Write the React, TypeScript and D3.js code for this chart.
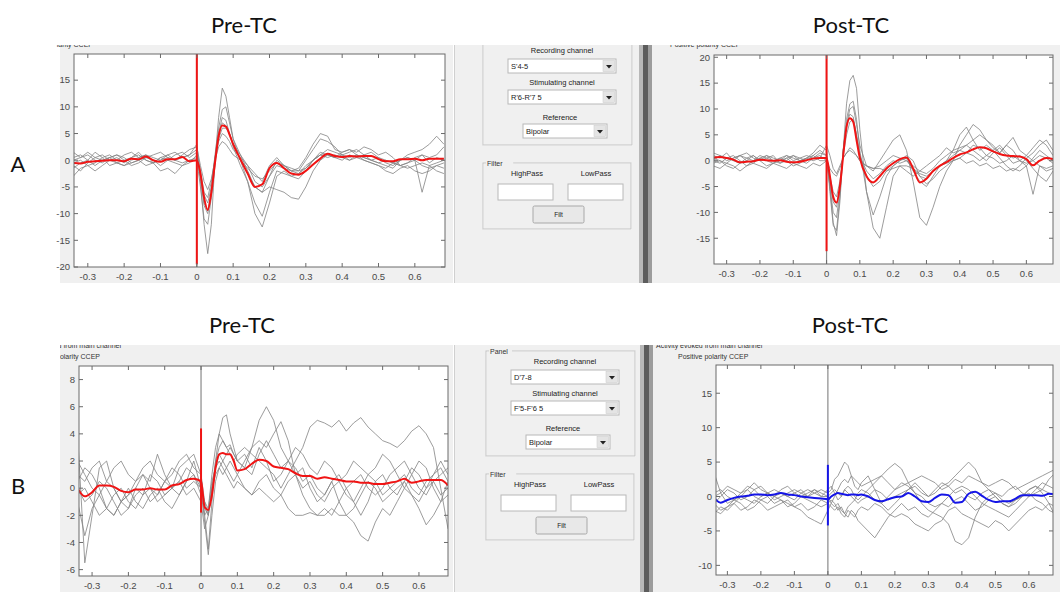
import * as d3 from 'd3';

// sample times (s) shared by every trace
const T = [
  -0.34, -0.32, -0.3, -0.28, -0.26, -0.24, -0.22, -0.2, -0.18, -0.16, -0.14, -0.12, -0.1, -0.08, -0.06, -0.04, -0.02,
  0, 0.01, 0.02, 0.03, 0.04, 0.05, 0.06, 0.07, 0.08, 0.09, 0.1,
  0.12, 0.14, 0.16, 0.18, 0.2, 0.22, 0.24, 0.26, 0.28, 0.3, 0.32, 0.34, 0.36, 0.38, 0.4, 0.42, 0.44, 0.46, 0.48, 0.5,
  0.52, 0.54, 0.56, 0.58, 0.6, 0.62, 0.64, 0.66, 0.68,
];
const X_TICKS = [-0.3, -0.2, -0.1, 0, 0.1, 0.2, 0.3, 0.4, 0.5, 0.6];

// A, Pre-TC
const aPreMean = [
  -0.5, -0.6, -0.3, -0.2, -0.1, 0, 0, -0.2, 0.3, 0.2, 0.7, 0, -0.3, 0.2, 0.2, 0.6, -0.2,
  0, -2.5, -7, -9.3, -6, -0.5, 4.5, 6.5, 6.3, 4.8, 3,
  0.2, -2.5, -5, -4.5, -1.5, -0.5, -1.5, -2.5, -2.7, -2, -0.8, 0.3, 1.2, 0.8, 0.6, 0.8, 0.7, 0.8, 0.8, 0.2, -0.2, -0.2, 0.2, 0.2, 0.3, 0, 0.3, 0.3, 0.3,
];
const aPreTrials = [
  [-1, -2, -0.5, 0.5, 1, 0, 0.5, -0.5, 0.5, 1, 0, -0.5, 0.5, 1, 0, 0.5, 1,
    2, -4, -12, -17.5, -12, 0, 8, 13.5, 12, 8, 4,
    0, -4, -10, -12.5, -8, -3, -2, -3, -2.5, -1, 0, 1, 2, 1.5, 1, 0.5, 1, 0, -0.5, -1, -1.5, -0.5, 0, 0.5, 0, -1, -1.5, -1, -0.5],
  [-3, -1.5, -1, -2, -1, 0, -0.5, -1, -0.5, 0, -1, -0.5, -2, -1.5, -2.5, -1, -0.5,
    1, -3, -6.5, -8, -5, 1, 6, 9.5, 10, 7, 4,
    1, -2, -5, -6, -5, -5.5, -6, -7, -7.3, -5, -2, 0, 1, 0.5, 0, 1, 0.5, 0, -0.5, -1, -2, -2.5, -1.5, -1, -2, -2.5, -2, -1, -1.5],
  [0.5, 1, 0, 1.5, 0.5, 1, 0, 1, 1.5, 0.5, 1, 0.5, 0, 1, 1.5, 0.5, 1,
    3, -3, -8, -9.5, -6, 0, 4, 6, 6, 5, 3,
    1, -1, -4, -5, -3, -1, -1.5, -2, -2, 0, 2, 4, 3.5, 2.5, 1, 1.5, 2, 1, 0, 0.5, -0.5, -1, 0, 1, 1.5, 2, 3, 4.5, 3],
  [1.5, 0.5, 1, 0, -0.5, 0.5, 1, 0.5, -0.5, 0, 0.5, 1, 1.5, 0.5, 0, 1, 2,
    2.5, -1, -4, -5.5, -3.5, 0, 2.5, 3.5, 3, 2, 1,
    0, -1.5, -3, -3.5, -2, -0.5, -1, -1.5, -2, -1.5, 0, 1, 1, 0.5, 1.5, 2, 1, 0.5, 0, -0.5, 0, -0.5, -1, -0.5, 0, -6, -1, -0.5, 0],
  [-0.5, 0, -1, -0.5, 0.5, -1, -0.5, 0, -1, -0.5, 0.5, 0, -1, 0, -0.5, -1, 0,
    0, -5, -11, -12, -7, -1, 5, 8, 7.5, 5, 2.5,
    -1, -4, -8, -10.5, -6, -2, -2.5, -3, -3.5, -2, 0, 1.5, 1, 0.5, 1, 0, 0.5, 1, 1.5, 0.5, 0, -0.5, -1, -1.5, -1, -0.5, -1, -2, -2.5],
  [0, 0.5, 1.5, 0.5, 0, 0.5, 1, 0, 0.5, 1.5, 0, -0.5, 0.5, 0, 1, 1.5, 0.5,
    1.5, -2, -6, -7, -4, 0.5, 3.5, 5, 4.5, 3.5, 2,
    0.5, -1, -2.5, -4, -1, 0.5, -1, -2, -1.5, 0.5, 3, 5, 4.5, 2, 1.5, 2, 1.5, 2.5, 2, 1, 1.5, 0.5, -1, -0.5, 0.5, 1, 0.5, 1, 2.5],
  [-1.5, -0.5, 0, -1, 0, 0.5, -0.5, -1, 0, 0.5, 1, -0.5, 0, 0.5, 0, -0.5, 0,
    0.5, -3, -8.5, -10, -6.5, 0, 5, 7, 6.5, 5, 3,
    0, -2.5, -5, -6, -3, 0, -1, -2, -2.5, -1.5, 0, 1, 0.5, 1, 0.5, 0, 1, 0.5, 0, -0.5, -1, -1.5, 0, 0.5, 0, 1, -0.5, 0.5, 0],
];

// A, Post-TC
const aPostMean = [
  0.6, 0.7, 0.5, 0.2, -0.3, -0.2, -0.1, 0.2, 0.1, 0, 0.1, -0.2, -0.3, -0.2, 0.1, 0.4, 0.5,
  0.5, -3, -7, -8.1, -5, 1, 6.5, 8.2, 7.5, 4, 0.5,
  -3, -4.2, -3, -1.5, -0.5, 0.3, 0.6, -1.5, -4.2, -3.5, -2, -1, -0.3, 0.5, 1.2, 1.6, 2.2, 2.6, 2.4, 1.8,
  1.3, 1, 0.9, 0.8, 0.3, -0.9, 0, 0.5, 0.3,
];
const aPostTrials = [
  [1, 0.5, 1.5, 0, -0.5, 0.5, 1, 0, 0.5, 1, -0.5, 0, 1, 0.5, 0, 1, 2,
    1, -5, -12, -14.5, -8, 2, 11, 15.5, 16.5, 14, 6,
    -6, -13, -15, -9, -3, -1, -2, -3, -2, -1, 0, 1, 2.5, 1.5, 2, 3, 2, 1, 0, 1.5, 2.5, 1, -0.5, 0, 1, 0, -1, -2, -1.5],
  [-0.5, 0, -1, -1.5, -0.5, 0, 1, 0, -1, -0.5, 0.5, 0, -1, -0.5, 0.5, 1.5, 3,
    2, -6, -12.5, -13.5, -7, 2, 8, 11, 11.5, 8, 2,
    -6, -10.5, -7, -3, -1, 0, 0.5, -2, -4, -5, -3, -1, 0, 2, 5, 6.5, 4, 2, 3, 2, 0.5, -1, -2, -1, 0.5, 1.5, 3, 4, 2],
  [0, 1, 0.5, 0, 1, 1.5, 0.5, 0, 1, 0.5, 0, 1, 0.5, 0, -0.5, 0.5, 1,
    0, -4, -8, -9, -5, 2, 7, 10, 10.5, 7, 3,
    -1, -2, 0, 2, 4, 5, 2, -4, -11, -12.5, -9, -5, -2, 0, 3, 5, 7, 6, 4, 3, 1.5, 3, 2, 0, -1, 0.5, 2, 1, 0],
  [1.5, 1, 0, 0.5, 1, 0, -0.5, 0.5, 1, 0, 0.5, 1, 0, 0.5, 1, 0.5, 1.5,
    1, -3, -6, -7, -4, 1, 5, 7.5, 8, 5, 1,
    -2, -3.5, -2.5, -1, 0, -0.5, 0, -1.5, -3, -3.5, -2, -1, 0, 1, 2, 1.5, 3, 2.5, 1, 2, 3, 1.5, 0.5, 1, 0, -1.5, -3, -4, -2],
  [-1, -1.5, -0.5, -1, -2, -1, -0.5, -1, -1.5, -0.5, -1, -1.5, -0.5, -1, -1.5, -0.5, -1,
    0, -1.5, -2.5, -3, -1.5, 0.5, 1.5, 2.5, 2, 1, 0,
    -1, -1.5, -1.5, -2, -1.5, -1, -1, -1.5, -2.5, -3, -2, -1, -0.5, 0, 0.5, -0.5, 0, -1, -0.5, -1.5, -1, -2, -1.5, -2, -1, -6.5, -1, -1.5, -1],
  [0.5, 0, -0.5, 0.5, 1, 0.5, 0, 1, 0.5, 0, -0.5, 0.5, 1, 0, 0.5, 0, 0.5,
    3, 1, -1.5, -2.5, -1, 0.5, 1.5, 2, 1.5, 1, 0,
    -1, -1.5, -1, 0, 1, 0.5, 0, -1, -2, -2.5, -1.5, 0, 1, 2, 2.5, 3, 4, 5, 4, 2.5, 1.5, 3, 4.5, 2, 1, 2.5, 4, 3, 1],
  [0, -0.5, 0.5, 1, 0, -1, 0, 0.5, 0, -0.5, 0, 0.5, -0.5, 0, 0.5, 1, 0,
    0, -5, -10, -11, -6, 2, 7, 9, 8.5, 5, 1,
    -3, -5, -4, -2, -1, 0, 1, 0, -3, -4.5, -3.5, -2, -1, 0, 0.5, 1.5, 1, 0, 1, 0.5, -0.5, 0, 1, 0, -0.5, 0, 1, 0.5, -0.5],
];

// B, Pre-TC
const bPreMean = [
  0, -0.6, -0.3, 0.2, 0.2, 0.1, -0.2, -0.3, -0.1, -0.1, 0, -0.1, -0.1, 0.2, 0.3, 0.6, 0.7,
  0.5, -1.4, -1.6, -0.5, 1.5, 2.5, 2.6, 2.5, 2.5, 2, 1.3,
  1.4, 1.8, 2.1, 2, 1.6, 1.5, 1.4, 1.1, 0.9, 0.9, 0.7, 0.8, 0.7, 0.6, 0.5, 0.5, 0.4, 0.4, 0.3, 0.3,
  0.4, 0.5, 0.7, 0.4, 0.5, 0.6, 0.6, 0.6, 0.2,
];
const bPreTrials = [
  [4, -5.5, -2, 1.5, 2, 0, -1, -1.5, 0, 1, 0.5, 2.5, 1, 0, 1.5, 2, 2.5,
    1, -2, -4.5, -1, 2, 4, 5.2, 5.4, 4, 3, 2,
    2.5, 1.5, 3, 2, 0.5, 1, 2, 1.5, 0.5, 1, 0, -0.5, 0.5, 1, 0, -1, -2, -1, 0.5, 1, 0, -0.5, 0.5, 1.5, 1, 0, 1, 2, 1],
  [-1, -3.5, -1.5, -0.5, -1.5, -2, -1, -0.5, 0, -0.5, 1, 0.5, -0.5, 0, 0.5, 1.5, 1,
    0, -1, -2, 0, 2, 3, 3.5, 3, 2.5, 2, 2.5,
    3, 2.5, 2, 1.5, 1, 0, 1, 2, 3, 4.5, 5, 4.8, 4.5, 5, 4.2, 4.8, 5.2, 4.5, 4, 3.5, 3.3, 3, 3.5, 4.2, 4.6, 4, 3, 0, -3],
  [1, 0.5, 1.5, 2, 0.5, 0, -1, -0.5, 0.5, 1, 0, -0.5, 0.5, 1.5, 1, 0, 0.5,
    0, -1.5, -2, 0, 1.5, 2.5, 2, 2.5, 3, 2.5, 2,
    1.5, 3, 5, 6, 5, 3, 2, 1, 0, 0.5, -0.5, -1, 0, 0.5, -0.5, -1, 0, 1, 0.5, -0.5, 0, 0.5, 1, 0, -0.5, 0.5, 1, 1.5, 0.5],
  [-0.5, 0, -1, -2, -1.5, -0.5, 0, -1, -1.5, -0.5, 0, -1, -0.5, 0, 0.5, -0.5, 0,
    -1, -3, -2, 0, 1, 1.5, 1, 1.5, 2, 1.5, 1,
    2, 3, 3.5, 3, 4, 4.9, 3.5, 1, -0.5, -1.5, -2, -2, -1.5, -2, -2, -1.5, -0.5, 0.5, 0, -1, -0.5, 0, 0.5, -0.5, -1, 0, 0.5, -0.5, 0],
  [0.5, 1.5, 1, 0, -1.5, -2, -1, 0, -1, -1.5, -0.5, 0, -1, -1.5, -0.5, 0.5, 2,
    0, -2.5, -4.9, -2, 0.5, 1.5, 2, 1.5, 1, 0.5, 1,
    0, -0.5, 0.5, 1, 0, -0.5, 0.5, 1, 1.5, 0, -1, -0.5, 0.5, -1, -2, -2.5, -3.5, -3.9, -2.5, -1.5, -2, -1, 0, -0.5, -1.5, -2.7, -2, -1, 0.5],
  [2, 1, 0, -0.5, 0.5, 1.5, 2, 1, 0.5, 1.5, 2, 1, 0.5, 1, 2, 2.5, 1.5,
    1, -1, -1.5, 1, 3, 4, 3.5, 3, 3.2, 2.5, 2,
    1.5, 1, 2.5, 3.5, 2.5, 1.5, 2, 3, 2.5, 1.5, 1, 2, 1.5, 0.5, 1, 2, 1.5, 1, 1.5, 2.5, 2, 1, 0, 1, 2, 1.5, 0, -1, -0.5],
  [0, -1, -0.5, 0.5, 0, -1, -2, -1.5, -0.5, 0, -1, -0.5, 0.5, 0, -0.5, 0.5, 1,
    -0.5, -2, -1.5, 0.5, 1.5, 2, 1.5, 1, 0.5, 0, 0.5,
    0, -0.5, 0, -0.5, -1, -0.5, -1.5, -2, -2, -1.8, -2, -1.5, -2, -1, 0, 0.5, 1, 0, -0.5, 0, 1, 1.5, 2, 1, 0, -0.5, 0.5, 1, 1.5],
];

// B, Post-TC
const bPostMean = [
  -0.2, -0.9, -0.5, -0.2, 0, 0.1, 0.3, 0.3, 0.2, 0.3, 0.5, 0.3, 0.2, 0, -0.1, -0.2, -0.3,
  -0.4, 0, 0.3, 0.5, 0.4, 0.3, 0.2, 0.3, 0.3, 0.2, 0.3,
  0, -0.5, -0.7, -0.4, -0.1, 0, 0.5, 0, -0.7, -0.8, -0.2, 0.3, 0.2, -0.9, -0.8, 0.4, 0.7, 0.1, -0.5, -0.8,
  -0.7, -0.7, -0.3, 0.2, 0.2, 0.2, 0.1, 0.4, 0.3,
];
const bPostTrials = [
  [3.5, 0.5, -1, -0.5, 0.5, 1.5, 1, 0, 0.5, 1, 0.5, 0, 0.5, 1, 0, 0.5, 1,
    0.5, 1, 2.5, 3, 4, 5, 4.5, 3, 1.5, 1, 2,
    3, 1, -1, -2, -1, 0, 1, 2, 1, 0, 0.5, 1.5, 2, 3, 4, 5, 4, 2, 1, 0, -1, -1.5, -0.5, 0, 1, 1.5, 1, 2.5, 3.5],
  [-1, -2, -1.5, -0.5, -1, -2, -1.5, -0.5, 0, -1, -0.5, -1.5, -1, 0, -0.5, -1, -1.5,
    -1, -0.5, -1, -2, -1.5, -2.5, -3, -2, -2.5, -3.5, -4,
    -5, -6, -4.5, -3, -2, -1, -2, -1.5, -2.5, -3, -2, -1, -1.5, -0.5, 0, -1, -2, -1.5, -0.5, 0, -1, -1.5, -1, 0, 0.5, -0.5, -1, -2, -2.5],
  [0.5, 1, 0, -0.5, 0, 1, 2, 1, 0.5, 0, 1, 1.5, 0.5, 0, 0.5, 1, 0,
    0, 0.5, 1, 0.5, 0, 1, 1.5, 1, 0, -0.5, 0,
    1, 2, 3, 4, 4.8, 4, 2, 0.5, -1, -2, -2.5, -3, -4, -6.5, -7, -6, -3, -1, 0, 0.5, 0, 1, 1.5, 0.5, 0, 0.5, 1, 0.5, 0],
  [-2, -2.5, -1.5, -1, -2, -1.5, -0.5, -1, -2, -1.5, -1, -0.5, -1.5, -1, -2, -1.5, -0.5,
    -1, -1.5, -2, -1.5, -2.5, -3, -2, -2.5, -3, -2, -1.5,
    -2, -1, -1.5, -2.5, -3, -2.5, -3, -4, -4.5, -5, -4, -3.5, -2, -1.5, -2.5, -3, -3.5, -4, -4.5, -3.5, -4, -5, -4, -3, -2, -1.5, -2, -1, -1.5],
  [-1, 0, 1, 0.5, -0.5, 0, 1, 1.5, 0.5, 0, -0.5, -1, -1.5, -2, -3, -3.5, -4,
    -2, -1, 0, 1, 2, 2.5, 2, 3, 2.5, 2, 1.5,
    2, 2.5, 3, 2, 1, 1.5, 2, 2.5, 3, 2.5, 2, 1, 1.5, 2.5, 2, 3, 2.5, 2, 1.5, 2, 2.5, 2, 1, 1.5, 2, 2.5, 3, 3.5, 4],
  [-2.5, -1.5, -2, -1, 0, -0.5, -1, 0, 0.5, -0.5, 0, 0.5, 1, 0.5, 0, 1, 0.5,
    0, -1, -1.5, -1, -2, -2.5, -1.5, -1, -0.5, -1, -0.5,
    0, 1, 0.5, -0.5, 0, 0.5, 1, 1.5, 0.5, 0, 1, 2, 1.5, 0.5, 1, 0, -0.5, 0.5, 1, 0.5, -0.5, -1, -0.5, 0, 1, 1.5, 0.5, -1, -3],
  [0, 0.5, 1.5, 1, 0.5, 1, 0, -0.5, -1, 0, 0.5, 0, -0.5, 0.5, 1, 0.5, 0,
    1, 1.5, 0.5, -0.5, 0, 1, 0.5, 0, -0.5, 0.5, 1,
    0.5, -0.5, -1, 0, 1, 2, 1.5, 0.5, 0, -1, -1.5, -1, 0, 1, 1.5, 1, 0, -1, -1.5, -2, -2.5, -3, -2, -1, 0, 1, 2, 1.5, 1],
];

const FONT = 'Arial, "Liberation Sans", sans-serif';
const TITLE_FONT = 'Lato, "Open Sans", sans-serif';
const BG = '#f0f0f0';

interface Frame { x0: number; x1: number; y0: number; y1: number }

interface EpPanelProps {
  id: string;
  frame: Frame;
  xDomain: [number, number];
  yDomain: [number, number];
  yTicks: number[];
  trials: number[][];
  mean: number[];
  meanColor: string;
  stim: [number, number];
}

const EpPanel = ({ id, frame, xDomain, yDomain, yTicks, trials, mean, meanColor, stim }: EpPanelProps) => {
  const x = d3.scaleLinear().domain(xDomain).range([frame.x0, frame.x1]);
  const y = d3.scaleLinear().domain(yDomain).range([frame.y1, frame.y0]);
  const raw = d3.line<number>().x((_, i) => x(T[i])).y((d) => y(d));
  const smooth = d3.line<number>().x((_, i) => x(T[i])).y((d) => y(d)).curve(d3.curveMonotoneX);
  const tick = 4;
  return (
    <g>
      <defs>
        <clipPath id={`clip-${id}`}>
          <rect x={frame.x0} y={frame.y0} width={frame.x1 - frame.x0} height={frame.y1 - frame.y0} />
        </clipPath>
      </defs>
      <rect x={frame.x0} y={frame.y0} width={frame.x1 - frame.x0} height={frame.y1 - frame.y0} fill="#fff" />
      <g clipPath={`url(#clip-${id})`}>
        {trials.map((tr, i) => (
          <path key={i} d={raw(tr) || ''} fill="none" stroke="#858585" strokeWidth={0.9} strokeOpacity={0.9} />
        ))}
        {/* stimulation artefact */}
        <line x1={x(0)} x2={x(0)} y1={frame.y0} y2={frame.y1} stroke="#8a8a8a" strokeWidth={1.2} />
        <path d={smooth(mean) || ''} fill="none" stroke={meanColor} strokeWidth={2} />
        <line x1={x(0)} x2={x(0)} y1={y(stim[1])} y2={y(stim[0])} stroke={meanColor} strokeWidth={2} />
      </g>
      <rect x={frame.x0} y={frame.y0} width={frame.x1 - frame.x0} height={frame.y1 - frame.y0}
        fill="none" stroke="#6a6a6a" strokeWidth={1} />
      {X_TICKS.map((t) => (
        <g key={`x${t}`}>
          <line x1={x(t)} x2={x(t)} y1={frame.y1} y2={frame.y1 - tick} stroke="#6a6a6a" />
          <line x1={x(t)} x2={x(t)} y1={frame.y0} y2={frame.y0 + tick} stroke="#6a6a6a" />
          <text x={x(t)} y={frame.y1 + 13} textAnchor="middle" fontSize={9.5} fill="#4a4a4a" fontFamily={FONT}>
            {`${+t.toFixed(1)}`}
          </text>
        </g>
      ))}
      {yTicks.map((t) => (
        <g key={`y${t}`}>
          <line x1={frame.x0} x2={frame.x0 + tick} y1={y(t)} y2={y(t)} stroke="#6a6a6a" />
          <line x1={frame.x1} x2={frame.x1 - tick} y1={y(t)} y2={y(t)} stroke="#6a6a6a" />
          <text x={frame.x0 - 4} y={y(t) + 3.3} textAnchor="end" fontSize={9.5} fill="#4a4a4a" fontFamily={FONT}>
            {t}
          </text>
        </g>
      ))}
    </g>
  );
};

const Dropdown = ({ x, y, w, label }: { x: number; y: number; w: number; label: string }) => (
  <g>
    <rect x={x} y={y} width={w} height={14} fill="#fff" stroke="#b8b8b8" />
    <rect x={x + w - 13} y={y + 1.5} width={11.5} height={11} fill="#e4e4e4" stroke="#cfcfcf" strokeWidth={0.6} />
    <path d={`M${x + w - 10},${y + 6} h6 l-3,3.5 z`} fill="#222" />
    <text x={x + 3} y={y + 10} fontSize={7.5} fontFamily={FONT} fill="#222">{label}</text>
  </g>
);

const GroupBox = ({ x, y, w, h, label }: { x: number; y: number; w: number; h: number; label: string }) => (
  <g>
    <rect x={x + 0.5} y={y + 0.5} width={w} height={h} fill="none" stroke="#fff" />
    <rect x={x} y={y} width={w} height={h} fill="none" stroke="#c4c4c4" />
    <rect x={x + 3} y={y - 5} width={label.length * 4.2 + 2} height={9} fill={BG} />
    <text x={x + 4} y={y + 2.5} fontSize={7} fontFamily={FONT} fill="#333">{label}</text>
  </g>
);

const Gui = ({ dx, dy, rec, stimCh }: { dx: number; dy: number; rec: string; stimCh: string }) => (
  <g transform={`translate(${dx},${dy})`} fontFamily={FONT}>
    <GroupBox x={483} y={40} w={149} h={105} label="Panel" />
    <text x={562} y={53} textAnchor="middle" fontSize={7.5} fill="#222">Recording channel</text>
    <Dropdown x={508} y={59} w={108} label={rec} />
    <text x={562} y={85} textAnchor="middle" fontSize={7.5} fill="#222">Stimulating channel</text>
    <Dropdown x={508} y={90} w={108} label={stimCh} />
    <text x={560} y={120} textAnchor="middle" fontSize={7.5} fill="#222">Reference</text>
    <Dropdown x={523} y={124} w={84} label="Bipolar" />
    <GroupBox x={483} y={163} w={148} h={66} label="Filter" />
    <text x={527} y={176} textAnchor="middle" fontSize={7.5} fill="#222">HighPass</text>
    <text x={596} y={176} textAnchor="middle" fontSize={7.5} fill="#222">LowPass</text>
    <rect x={498} y={184} width={55} height={16} fill="#fff" stroke="#b8b8b8" />
    <rect x={568} y={184} width={55} height={16} fill="#fff" stroke="#b8b8b8" />
    <rect x={533} y={206} width={51} height={17} fill="#e8e8e8" stroke="#a8a8a8" rx={1.5} />
    <text x={558.5} y={217} textAnchor="middle" fontSize={6.5} fill="#222">Filt</text>
  </g>
);

const ScrollBar = ({ x, y, h }: { x: number; y: number; h: number }) => (
  <g>
    <rect x={x} y={y} width={4} height={h} fill="#b8b8b8" />
    <rect x={x + 4} y={y} width={5} height={h} fill="#5c5c5c" />
    <rect x={x + 9} y={y} width={4} height={h} fill="#9c9c9c" />
  </g>
);

const App = () => {
  return (
    <svg width={1060} height={592} style={{ position: 'fixed', left: 0, top: 0, background: '#fff' }}>
      <defs>
        <clipPath id="rowA"><rect x={0} y={45} width={1060} height={238} /></clipPath>
        <clipPath id="rowB"><rect x={0} y={345} width={1060} height={247} /></clipPath>
        <clipPath id="leftB"><rect x={60} y={345} width={393} height={247} /></clipPath>
      </defs>

      {/* row A screenshot */}
      <g clipPath="url(#rowA)">
        <rect x={60} y={45} width={393} height={238} fill={BG} />
        <line x1={454.5} x2={454.5} y1={45} y2={283} stroke="#d0d0d0" />
        <rect x={455} y={45} width={184} height={238} fill={BG} />
        <ScrollBar x={639} y={45} h={238} />
        <rect x={652} y={45} width={408} height={238} fill={BG} />
        <text x={93} y={47} textAnchor="end" fontSize={7} fontFamily={FONT} fill="#333">larity CCEP</text>
        <text x={670} y={47} fontSize={7} fontFamily={FONT} fill="#333">Positive polarity CCEP</text>
        <Gui dx={0} dy={0} rec="S'4-5" stimCh="R'6-R'7 5" />
      </g>
      <EpPanel id="aPre" frame={{ x0: 74, x1: 445, y0: 54, y1: 267 }}
        xDomain={[-0.338, 0.683]} yDomain={[-20, 19.9]} yTicks={[-20, -15, -10, -5, 0, 5, 10, 15]}
        trials={aPreTrials} mean={aPreMean} meanColor="#f01414" stim={[-19.5, 19.9]} />
      <EpPanel id="aPost" frame={{ x0: 714, x1: 1053, y0: 55, y1: 264 }}
        xDomain={[-0.338, 0.68]} yDomain={[-19.98, 20.44]} yTicks={[-15, -10, -5, 0, 5, 10, 15, 20]}
        trials={aPostTrials} mean={aPostMean} meanColor="#f01414" stim={[-17.5, 20.44]} />

      {/* row B screenshot */}
      <g clipPath="url(#rowB)">
        <rect x={60} y={345} width={393} height={247} fill={BG} />
        <line x1={454.5} x2={454.5} y1={345} y2={592} stroke="#d0d0d0" />
        <rect x={455} y={345} width={186} height={247} fill={BG} />
        <ScrollBar x={640} y={345} h={247} />
        <rect x={653} y={345} width={407} height={247} fill={BG} />
        <g clipPath="url(#leftB)">
          <text x={121} y={348} textAnchor="end" fontSize={7} fontFamily={FONT} fill="#333">Activity evoked from main channel</text>
          <text x={100} y={359} textAnchor="end" fontSize={7} fontFamily={FONT} fill="#333">Positive polarity CCEP</text>
        </g>
        <text x={656} y={348} fontSize={7} fontFamily={FONT} fill="#333">Activity evoked from main channel</text>
        <text x={678} y={359} fontSize={7} fontFamily={FONT} fill="#333">Positive polarity CCEP</text>
        <Gui dx={3} dy={311} rec="D'7-8" stimCh="F'5-F'6 5" />
      </g>
      <EpPanel id="bPre" frame={{ x0: 79, x1: 448, y0: 366, y1: 576 }}
        xDomain={[-0.336, 0.68]} yDomain={[-6.47, 9]} yTicks={[-6, -4, -2, 0, 2, 4, 6, 8]}
        trials={bPreTrials} mean={bPreMean} meanColor="#f01414" stim={[-1.8, 4.4]} />
      <EpPanel id="bPost" frame={{ x0: 716, x1: 1053, y0: 365, y1: 575 }}
        xDomain={[-0.334, 0.672]} yDomain={[-11.4, 19.1]} yTicks={[-10, -5, 0, 5, 10, 15]}
        trials={bPostTrials} mean={bPostMean} meanColor="#1515e6" stim={[-4.2, 4.6]} />

      {/* figure titles and row letters */}
      <g fontFamily={TITLE_FONT} fontSize={22} fill="#111" textAnchor="middle">
        <text x={244} y={33}>Pre-TC</text>
        <text x={851} y={33}>Post-TC</text>
        <text x={242} y={333}>Pre-TC</text>
        <text x={850} y={333}>Post-TC</text>
        <text x={18} y={172}>A</text>
        <text x={18} y={494}>B</text>
      </g>
    </svg>
  );
};

export default App;
